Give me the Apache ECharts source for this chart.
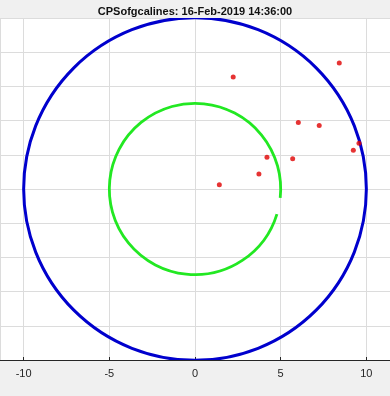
<!DOCTYPE html>
<html>
<head>
<meta charset="utf-8">
<script src="https://cdn.jsdelivr.net/npm/echarts@6/dist/echarts.min.js"></script>
<style>html,body{margin:0;padding:0;background:#f0f0f0;}#c{width:390px;height:396px;}</style>
</head>
<body>
<div id="c"></div>
<script>
const titleText = 'CPSofgcalines: 16-Feb-2019 14:36:00';
const xTicks = [-10, -5, 0, 5, 10];
// circles: [centerX, centerY, radius, startDeg, endDeg] (degrees, counterclockwise in data space)
const blueCircle = [[0, 0, 10, 0, 360]];
const greenArc = [[0, 0, 5, -6, 343]];
const points = [
  [2.23, 6.55], [8.42, 7.37], [6.03, 3.89], [7.25, 3.72], [9.57, 2.67],
  [9.24, 2.26], [4.20, 1.85], [5.70, 1.77], [3.73, 0.88], [1.42, 0.25]
];

function arcRender(color, width) {
  return function (params, api) {
    const c = api.coord([api.value(0), api.value(1)]);
    const r = api.size([api.value(2), 0])[0];
    const s = api.value(3), e = api.value(4);
    return {
      type: 'arc',
      shape: { cx: c[0], cy: c[1], r: r, startAngle: -s * Math.PI / 180, endAngle: -e * Math.PI / 180, clockwise: false },
      style: { stroke: color, lineWidth: width, fill: null }
    };
  };
}

const chart = echarts.init(document.getElementById('c'));
chart.setOption({
  backgroundColor: '#f0f0f0',
  animation: false,
  title: {
    text: titleText, left: 'center', top: 1,
    textStyle: { fontFamily: 'Liberation Sans, Arial, sans-serif', fontSize: 11, fontWeight: 'bold', color: '#111' }
  },
  grid: { left: 0, right: 0, top: 18, bottom: 36, show: true, backgroundColor: '#ffffff', borderWidth: 0 },
  xAxis: {
    type: 'value', min: -11.38, max: 11.38, minInterval: 5, maxInterval: 5,
    axisLine: { onZero: false, lineStyle: { color: '#262626', width: 1 } },
    axisTick: { inside: true, length: 3, lineStyle: { color: '#262626' } },
    axisLabel: { showMinLabel: false, showMaxLabel: false, color: '#262626', fontSize: 11, margin: 8,
      fontFamily: 'Liberation Sans, Arial, sans-serif' },
    splitLine: { show: true, lineStyle: { color: '#dcdcdc', width: 1 } }
  },
  yAxis: {
    type: 'value', min: -10, max: 10, interval: 2,
    axisLine: { show: false }, axisTick: { show: false }, axisLabel: { show: false },
    splitLine: { show: true, lineStyle: { color: '#dcdcdc', width: 1 } }
  },
  series: [
    { type: 'custom', renderItem: arcRender('#0000cd', 3), data: blueCircle, clip: true, z: 2 },
    { type: 'custom', renderItem: arcRender('#22e822', 2.8), data: greenArc, clip: true, z: 2 },
    { type: 'scatter', data: points, symbolSize: 5, itemStyle: { color: '#e00000' }, z: 3 }
  ]
});
</script>
</body>
</html>
